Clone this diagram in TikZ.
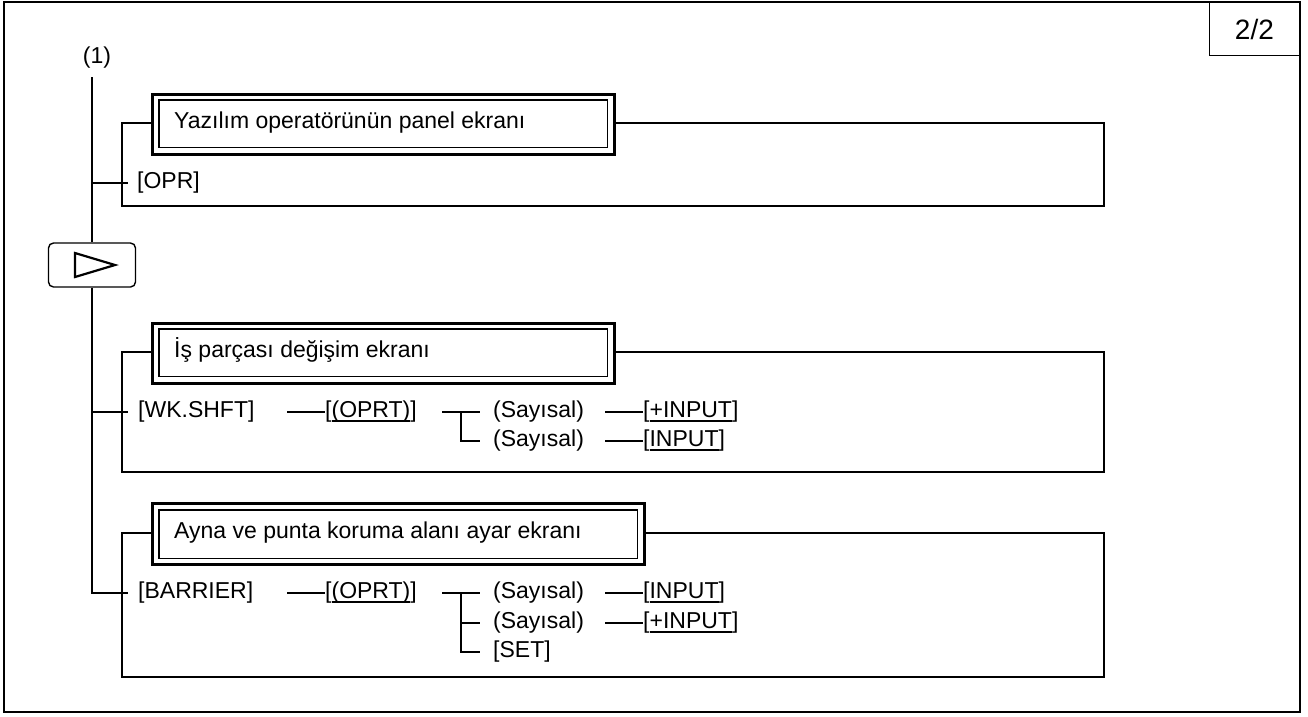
\documentclass[tikz,border=0pt]{standalone}
\usepackage{fontspec}
\setmainfont{Liberation Sans}
\newcommand\myul[1]{\setbox0\hbox{#1}\rlap{\vrule width\wd0 height -1.8pt depth 3.9pt}\box0}
\begin{document}
\begin{tikzpicture}[x=1pt,y=-1pt,
  lbl/.style={anchor=west,inner sep=0pt,font=\fontsize{23}{27}\selectfont,text height=16.7pt,text depth=4.8pt},
  conn/.style={line width=1.5pt},
  sect/.style={draw,line width=1.4pt},
  tout/.style={draw,line width=2.5pt,fill=white,anchor=north west,inner sep=0pt},
  tin/.style={line width=1.1pt},
  frame/.style={line width=2.6pt},
  playbox/.style={draw,line width=1.4pt,rounded corners=5pt,minimum width=87pt,minimum height=44pt,inner sep=0pt},
  pgbox/.style={draw,line width=1.2pt,minimum width=90pt,minimum height=53pt,anchor=north east,inner sep=0pt,font=\fontsize{28}{32}\selectfont}
]
\useasboundingbox (0,0) rectangle (1308,716);
\fill[white] (0,0) rectangle (1308,716);
\draw[frame] (4,2) rectangle (1300,712);
\node[pgbox] (pg) at (1300,2) {2/2};

% sections
\draw[sect] (122,123) rectangle (1104,206);
\draw[sect] (122,352) rectangle (1104,472);
\draw[sect] (122,533) rectangle (1104,677);

% titles
\node[tout,minimum width=462pt,minimum height=60pt] (t1) at (151,93) {};
\draw[tin] ([shift={(8,7)}]t1.north west) rectangle ([shift={(-8,-8)}]t1.south east);
\node[lbl] (t1txt) at (174,123) {Yazılım operatörünün panel ekranı};

\node[tout,minimum width=462pt,minimum height=60pt] (t2) at (151,322) {};
\draw[tin] ([shift={(8,7)}]t2.north west) rectangle ([shift={(-8,-8)}]t2.south east);
\node[lbl] (t2txt) at (174,352) {İş parçası değişim ekranı};

\node[tout,minimum width=492pt,minimum height=61pt] (t3) at (151,502) {};
\draw[tin] ([shift={(8,8)}]t3.north west) rectangle ([shift={(-8,-7)}]t3.south east);
\node[lbl] (t3txt) at (174,533) {Ayna ve punta koruma alanı ayar ekranı};

% spine
\node[lbl,anchor=center] (one) at (97,58) {(1)};
\coordinate (stop) at (92,77);
\node[playbox] (play) at (92,265) {};
\draw[line width=2.2pt,line join=miter] ([shift={(-17,-12)}]play.center) -- ([shift={(-17,12)}]play.center) -- ([shift={(23,0)}]play.center) -- cycle;

% row labels
\node[lbl] (opr) at (137,183) {[OPR]};
\node[lbl] (wk) at (138,412) {[WK.SHFT]};
\node[lbl] (oprt1) at (325,412) {[\myul{(OPRT)}]};
\node[lbl] (s11) at (493,412) {(Sayısal)};
\node[lbl] (s12) at (493,441) {(Sayısal)};
\node[lbl] (i11) at (643,412) {[\myul{+INPUT}]};
\node[lbl] (i12) at (643,441) {[\myul{INPUT}]};

\node[lbl] (bar) at (138,593) {[BARRIER]};
\node[lbl] (oprt2) at (325,593) {[\myul{(OPRT)}]};
\node[lbl] (s21) at (493,593) {(Sayısal)};
\node[lbl] (s22) at (493,623) {(Sayısal)};
\node[lbl] (set) at (493,652) {[SET]};
\node[lbl] (i21) at (643,593) {[\myul{INPUT}]};
\node[lbl] (i22) at (643,623) {[\myul{+INPUT}]};

% connectors
\draw[conn] (stop) -- (play.north);
\draw[conn] (play.south) |- ([xshift=-10pt]bar.west);
\draw[conn] (play.north |- opr.west) -- ([xshift=-9pt]opr.west);
\draw[conn] (play.south |- wk.west) -- ([xshift=-10pt]wk.west);

\draw[conn] ([xshift=-38pt]oprt1.west) -- (oprt1.west);
\draw[conn] ([xshift=-51pt]s11.west) -- ([xshift=-13pt]s11.west);
\draw[conn] ([xshift=-32pt]s11.west) |- ([xshift=-13pt]s12.west);
\draw[conn] ([xshift=-38pt]i11.west) -- (i11.west);
\draw[conn] ([xshift=-38pt]i12.west) -- (i12.west);

\draw[conn] ([xshift=-38pt]oprt2.west) -- (oprt2.west);
\draw[conn] ([xshift=-51pt]s21.west) -- ([xshift=-13pt]s21.west);
\draw[conn] ([xshift=-32pt]s21.west) |- ([xshift=-13pt]set.west);
\draw[conn] ([xshift=-32pt]s22.west) -- ([xshift=-13pt]s22.west);
\draw[conn] ([xshift=-38pt]i21.west) -- (i21.west);
\draw[conn] ([xshift=-38pt]i22.west) -- (i22.west);
\end{tikzpicture}
\end{document}
